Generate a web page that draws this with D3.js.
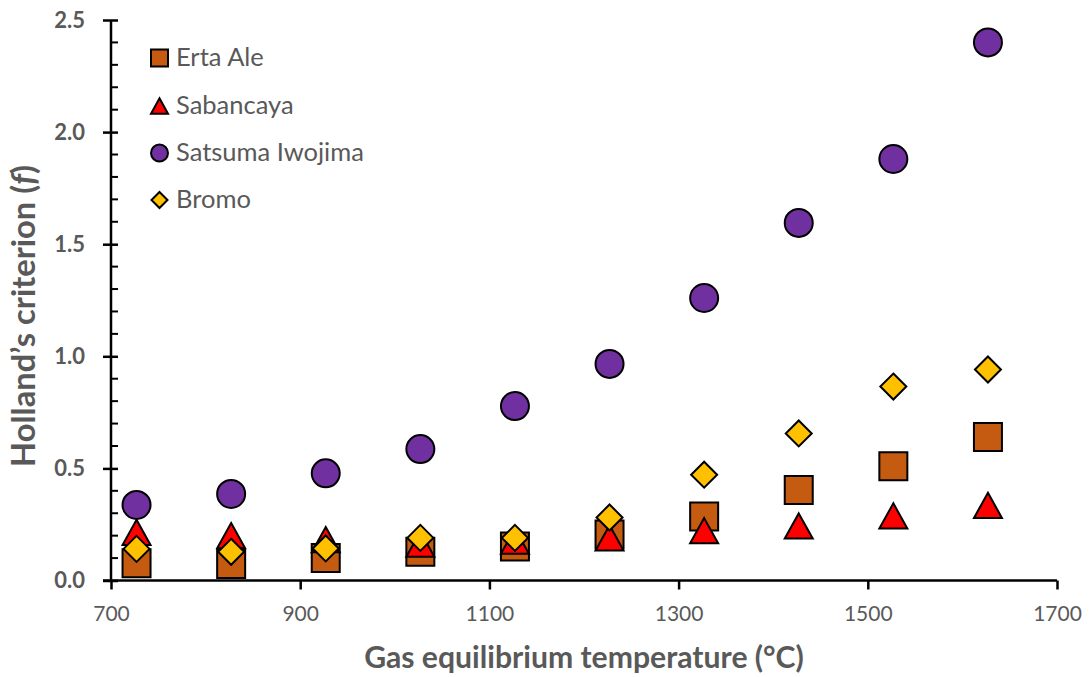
<!DOCTYPE html>
<html>
<head>
<meta charset="utf-8">
<script src="https://cdn.jsdelivr.net/npm/d3@7"></script>
<style>
  body { margin: 0; background: #fff; }
  svg { display: block; }
  text { font-family: Lato, "Open Sans", sans-serif; }
</style>
</head>
<body>
<svg id="chart" width="1090" height="677"></svg>
<script>
// ---------------- data ----------------
const temperatures = [727, 827, 927, 1027, 1127, 1227, 1327, 1427, 1527, 1627];
const ertaAle     = [0.077, 0.074, 0.100, 0.128, 0.152, 0.205, 0.286, 0.404, 0.510, 0.640];
const sabancaya   = [0.215, 0.200, 0.182, 0.162, 0.175, 0.190, 0.222, 0.243, 0.288, 0.335];
const satsumaIwojima = [0.337, 0.386, 0.478, 0.586, 0.778, 0.966, 1.260, 1.595, 1.880, 2.400];
const bromo       = [0.141, 0.128, 0.143, 0.190, 0.190, 0.281, 0.472, 0.656, 0.865, 0.941];
const seriesNames = ["Erta Ale", "Sabancaya", "Satsuma Iwojima", "Bromo"];
const xTickValues = [700, 900, 1100, 1300, 1500, 1700];
const yTickValues = [0, 0.5, 1.0, 1.5, 2.0, 2.5];

// ---------------- layout ----------------
const svg = d3.select("#chart");
const X0 = 111, X1 = 1057, Y0 = 580.5, Y1 = 20;
const x = d3.scaleLinear().domain([700, 1700]).range([X0, X1]);
const y = d3.scaleLinear().domain([0, 2.5]).range([Y0, Y1]);
const grey = "#595959";

const shapes = {
  square: s => `M${-s/2},${-s/2}H${s/2}V${s/2}H${-s/2}Z`,
  triangle: s => { const h = s * 0.9; return `M0,${-h/2}L${s/2},${h/2}L${-s/2},${h/2}Z`; },
  circle: s => { const r = s/2; return `M${r},0A${r},${r} 0 1,1 ${-r},0A${r},${r} 0 1,1 ${r},0Z`; },
  diamond: s => { const r = s/2; return `M0,${-r}L${r},0L0,${r}L${-r},0Z`; }
};
const series = [
  { name: seriesNames[0], values: ertaAle,        shape: "square",   fill: "#C55A11", size: 28 },
  { name: seriesNames[1], values: sabancaya,      shape: "triangle", fill: "#FF0000", size: 28 },
  { name: seriesNames[2], values: satsumaIwojima, shape: "circle",   fill: "#7030A0", size: 28 },
  { name: seriesNames[3], values: bromo,          shape: "diamond",  fill: "#FFC000", size: 26 }
];

// ---------------- axes ----------------
const yMinor = d3.range(0, 2.5001, 0.1).filter(v => Math.abs(v*2 - Math.round(v*2)) > 1e-6);
svg.append("g").selectAll("line").data(yMinor).join("line")
  .attr("x1", X0).attr("x2", X0 + 7)
  .attr("y1", d => y(d)).attr("y2", d => y(d))
  .attr("stroke", "#000").attr("stroke-width", 2);

const yAxis = svg.append("g").attr("transform", `translate(${X0},0)`)
  .call(d3.axisLeft(y).tickValues(yTickValues).tickFormat(d3.format(".1f")).tickSize(8).tickPadding(18));
yAxis.select(".domain").attr("stroke", "#000").attr("stroke-width", 2.5)
  .attr("d", `M0,${Y1}V${Y0}`);
yAxis.selectAll(".tick line").attr("stroke", "#000").attr("stroke-width", 2.5).attr("x1", 7);
yAxis.selectAll(".tick text").attr("fill", grey).attr("font-size", 22).attr("font-weight", "bold")
  .attr("font-family", "Lato, sans-serif");

const xAxis = svg.append("g").attr("transform", `translate(0,${Y0})`)
  .call(d3.axisBottom(x).tickValues(xTickValues).tickFormat(d3.format("d")).tickSize(9).tickPadding(17));
xAxis.select(".domain").attr("stroke", "#000").attr("stroke-width", 2.5)
  .attr("d", `M${X0 - 8},0H${X1}`);
xAxis.selectAll(".tick line").attr("stroke", "#000").attr("stroke-width", 2.5);
xAxis.selectAll(".tick text").attr("fill", grey).attr("font-size", 21)
  .attr("font-family", "Lato, sans-serif");

// ---------------- titles ----------------
function fitText(sel, target) {
  const fs = parseFloat(sel.attr("font-size"));
  const w = sel.node().getComputedTextLength();
  if (w > 0) sel.attr("font-size", fs * target / w);
}
const xTitle = svg.append("text")
  .attr("x", (X0 + X1) / 2).attr("y", 668)
  .attr("text-anchor", "middle").attr("fill", grey)
  .attr("font-weight", "bold").attr("font-size", 22)
  .text("Gas equilibrium temperature (°C)");
fitText(xTitle, 440);

const yTitle = svg.append("text")
  .attr("transform", `translate(35,316) rotate(-90)`)
  .attr("text-anchor", "middle").attr("fill", grey)
  .attr("font-weight", "bold").attr("font-size", 22);
yTitle.append("tspan").text("Holland’s criterion (");
yTitle.append("tspan").attr("font-style", "italic").text("f");
yTitle.append("tspan").text(")");
fitText(yTitle, 302);

// ---------------- points ----------------
series.forEach(s => {
  svg.append("g").selectAll("path").data(s.values).join("path")
    .attr("d", shapes[s.shape](s.size))
    .attr("transform", (d, i) => `translate(${x(temperatures[i])},${y(d)})`)
    .attr("fill", s.fill).attr("stroke", "#000").attr("stroke-width", 2)
    .attr("stroke-linejoin", "miter");
});

// ---------------- legend ----------------
const legendY = [58, 106, 153, 200];
const leg = svg.append("g");
series.forEach((s, i) => {
  leg.append("path")
    .attr("d", shapes[s.shape](s.shape === "diamond" ? 16 : 17))
    .attr("transform", `translate(159.5,${legendY[i]})`)
    .attr("fill", s.fill).attr("stroke", "#000").attr("stroke-width", 2);
  const t = leg.append("text")
    .attr("x", 176).attr("y", legendY[i] + 7.5)
    .attr("fill", grey).attr("font-size", 22)
    .text(s.name);
  if (i === 2) fitText(t, 188);
});
const legFs = leg.selectAll("text").filter((d, i) => i === 2).attr("font-size");
leg.selectAll("text").attr("font-size", legFs);
</script>
</body>
</html>
